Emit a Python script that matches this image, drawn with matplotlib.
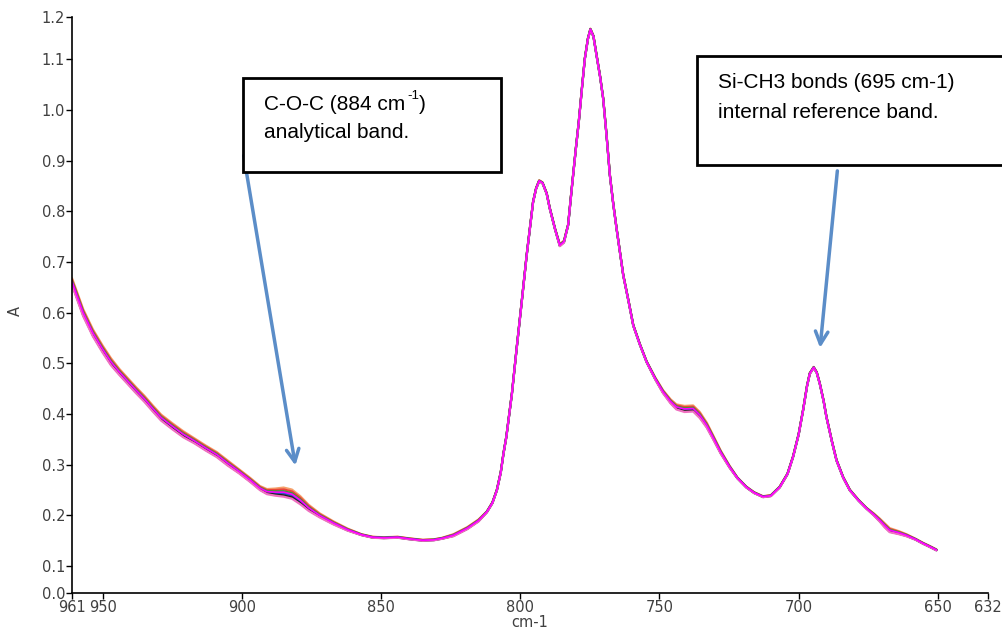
import numpy as np
import matplotlib
matplotlib.use("Agg")
import matplotlib.pyplot as plt
from matplotlib.patches import Rectangle

# wavenumber (cm-1) and absorbance
wn = [961, 957, 953.5, 950, 947, 944, 941, 938, 935, 932, 929, 925, 921, 917, 913,
      909, 905, 901, 897, 893.5, 891, 888, 885, 882, 879, 876, 872, 867, 862, 857,
      853, 849, 844, 840, 835, 831, 828, 824, 819, 815, 812, 810, 808.4, 807, 806,
      805, 803, 801.3, 799.5, 797.7, 795.4, 794.3, 793.2, 792, 790.5, 789.4, 787.5,
      785.8, 784.3, 782.8, 781.5, 780, 779, 777.8, 776.8, 775.7, 774.8, 773.7,
      772.6, 771.3, 770.2, 769, 767.8, 766.6, 765.4, 763, 761, 759.4, 757, 754.6,
      751.5, 748.7, 746, 743.9, 741, 737.9, 735.5, 733, 730.8, 728, 724.8, 722,
      718.8, 716, 712.8, 710, 706.8, 704, 702, 700, 698.4, 697, 696, 694.6, 693.5,
      692.4, 691, 690, 688, 686.4, 684, 681.6, 678.5, 675.6, 673, 670.9, 669,
      667.3, 664, 661.3, 658, 655.3, 653, 650.5]
absb = [0.661, 0.600, 0.560, 0.528, 0.503, 0.483, 0.465, 0.447, 0.430, 0.411,
        0.393, 0.376, 0.360, 0.347, 0.333, 0.320, 0.303, 0.287, 0.270, 0.254,
        0.247, 0.246, 0.246, 0.242, 0.230, 0.215, 0.200, 0.185, 0.172, 0.162,
        0.157, 0.156, 0.157, 0.154, 0.151, 0.152, 0.155, 0.161, 0.175, 0.190,
        0.207, 0.225, 0.250, 0.285, 0.323, 0.355, 0.440, 0.529, 0.620, 0.713,
        0.818, 0.845, 0.860, 0.856, 0.835, 0.806, 0.765, 0.733, 0.740, 0.773,
        0.845, 0.925, 0.975, 1.045, 1.101, 1.140, 1.159, 1.145, 1.108, 1.065,
        1.022, 0.950, 0.871, 0.815, 0.766, 0.674, 0.620, 0.575, 0.537, 0.503,
        0.470, 0.444, 0.425, 0.414, 0.410, 0.411, 0.398, 0.378, 0.355, 0.325,
        0.296, 0.274, 0.256, 0.245, 0.237, 0.239, 0.256, 0.282, 0.316, 0.360,
        0.408, 0.455, 0.480, 0.492, 0.482, 0.460, 0.425, 0.394, 0.345, 0.309,
        0.275, 0.250, 0.230, 0.214, 0.202, 0.191, 0.180, 0.171, 0.166, 0.161,
        0.153, 0.145, 0.139, 0.132]
# half width of the bundle of overlaid spectra at each point
spread = [0.007, 0.007, 0.007, 0.007, 0.007, 0.006, 0.006, 0.006, 0.006, 0.006,
          0.006, 0.006, 0.006, 0.005, 0.005, 0.005, 0.005, 0.004, 0.004, 0.004,
          0.005, 0.007, 0.009, 0.009, 0.008, 0.006, 0.004, 0.003, 0.002, 0.001,
          0.001, 0.001, 0.001, 0.001, 0.001, 0.001, 0.001, 0.002, 0.002, 0.002,
          0.001, 0.001, 0.001, 0.001, 0.001, 0.001, 0.001, 0.001, 0.001, 0.001,
          0.001, 0.001, 0.001, 0.001, 0.001, 0.001, 0.001, 0.002, 0.002, 0.001,
          0.001, 0.001, 0.001, 0.001, 0.001, 0.001, 0.001, 0.001, 0.001, 0.001,
          0.001, 0.001, 0.001, 0.001, 0.001, 0.001, 0.001, 0.001, 0.001, 0.001,
          0.002, 0.003, 0.004, 0.005, 0.006, 0.006, 0.006, 0.005, 0.004, 0.003,
          0.002, 0.001, 0.001, 0.001, 0.001, 0.001, 0.001, 0.001, 0.001, 0.001,
          0.001, 0.001, 0.001, 0.001, 0.001, 0.001, 0.001, 0.001, 0.001, 0.001,
          0.001, 0.001, 0.001, 0.001, 0.002, 0.003, 0.004, 0.004, 0.003, 0.002,
          0.001, 0.001, 0.001, 0.001]
offsets = [1.0, 0.6, 0.2, -0.3, -0.7, -1.0, 0.0]
colors = ['#f5a06a', '#e8443a', '#3a9a3a', '#3050d0', '#202020', '#f070c0', '#ff00ff']

x_ticks = [950, 900, 850, 800, 750, 700, 650]
y_ticks = [0.1, 0.2, 0.3, 0.4, 0.5, 0.6, 0.7, 0.8, 0.9, 1.0, 1.1]
x_lo, x_hi = 961, 632
y_lo, y_hi = 0.047, 1.183

wn = np.array(wn)
absb = np.array(absb)
spread = np.array(spread)

plt.rcParams['font.family'] = ['Liberation Sans', 'DejaVu Sans']
fig = plt.figure(figsize=(10.03, 6.30), dpi=100)
ax = fig.add_axes([0.0718, 0.0587, 0.9132, 0.9143])

for k, c in zip(offsets, colors):
    lw = 1.2 if c == '#ff00ff' else 1.6
    ax.plot(wn, absb + k * spread, color=c, lw=lw, solid_capstyle='round')

ax.set_xlim(x_lo, x_hi)
ax.set_ylim(y_lo, y_hi)
ax.set_xticks([x_lo] + x_ticks + [x_hi])
ax.set_xticklabels([str(v) for v in [x_lo] + x_ticks + [x_hi]])
ax.set_yticks([y_lo] + y_ticks + [y_hi])
ax.set_yticklabels(['0.0'] + ['%.1f' % v for v in y_ticks] + ['1.2'])
for s in ['top', 'right']:
    ax.spines[s].set_visible(False)
for s in ['left', 'bottom']:
    ax.spines[s].set_linewidth(1.2)
ax.tick_params(length=4, width=1, labelsize=10.5, labelcolor='#404040', pad=1)
ax.set_xlabel('cm-1', fontsize=10.5, color='#404040', labelpad=0, family='DejaVu Sans')
ax.set_ylabel('A', fontsize=10.5, color='#404040', family='DejaVu Sans')
ax.yaxis.set_label_coords(-0.054, 0.49)
for lab in ax.get_xticklabels() + ax.get_yticklabels():
    lab.set_family('DejaVu Sans')

# annotation arrows
arrow_c = '#5b8dc8'
ax.annotate('', xy=(880.6, 0.293), xytext=(899.5, 0.915),
            arrowprops=dict(arrowstyle='->,head_length=0.9,head_width=0.45',
                            color=arrow_c, lw=2.5))
ax.annotate('', xy=(692.4, 0.525), xytext=(686.0, 0.885),
            arrowprops=dict(arrowstyle='->,head_length=0.9,head_width=0.45',
                            color=arrow_c, lw=2.5))

# text boxes (figure pixels, origin bottom-left)
H = 630
fig.patches.append(Rectangle((243, H - 172), 258, 94, transform=None,
                             fill=True, facecolor='white', edgecolor='black', lw=2))
fig.patches.append(Rectangle((697, H - 165), 320, 109, transform=None,
                             fill=True, facecolor='white', edgecolor='black', lw=2))
fig.text(264 / 1003, 1 - 104 / H, 'C-O-C (884 cm', fontsize=15, va='center')
fig.text(407 / 1003, 1 - 96 / H, '-1', fontsize=9.5, va='center')
fig.text(419 / 1003, 1 - 104 / H, ')', fontsize=15, va='center')
fig.text(264 / 1003, 1 - 132 / H, 'analytical band.', fontsize=15, va='center')
fig.text(718 / 1003, 1 - 82 / H, 'Si-CH3 bonds (695 cm-1)', fontsize=15, va='center')
fig.text(718 / 1003, 1 - 112 / H, 'internal reference band.', fontsize=15, va='center')

fig.savefig('out.png', dpi=100)
